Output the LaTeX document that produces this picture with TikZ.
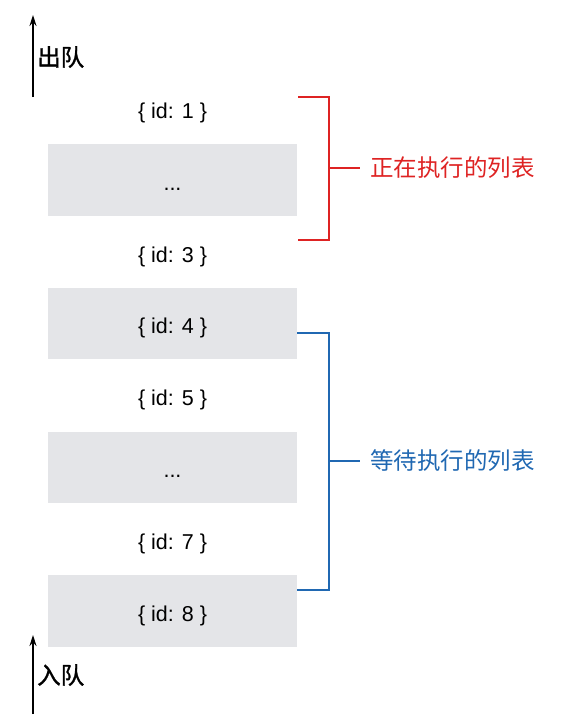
\documentclass[tikz,border=0pt]{standalone}
\usepackage{fontspec}
\setmainfont{Liberation Sans}
\newfontfamily\cjk{Noto Sans CJK SC}
\newfontfamily\cjkheavy[FakeBold=1.2]{Noto Sans CJK SC}
\usetikzlibrary{arrows.meta, positioning}
\definecolor{runred}{RGB}{222,35,35}
\definecolor{waitblue}{RGB}{32,104,178}
\definecolor{boxgray}{RGB}{228,229,232}

\begin{document}
\begin{tikzpicture}[
	x=1pt, y=-1pt,
	font=\fontsize{21.5}{24}\selectfont,
	item/.style={minimum width=249pt, minimum height=71.4pt, inner sep=0pt, text height=20.5pt, text depth=0pt, node distance=0pt},
	shaded/.style={item, fill=boxgray},
	listname/.style={font=\cjk\fontsize{23.5}{26}\selectfont, anchor=west, inner sep=0pt, inner xsep=10pt},
	queuename/.style={font=\cjkheavy\fontsize{23.5}{26}\selectfont, anchor=west, inner sep=0pt},
	queuearrow/.style={-{Stealth[length=11pt, width=7pt]}, line width=1.4pt},
	bracket/.style={line width=1.4pt}
]
\useasboundingbox (0,0) rectangle (567,725);

% queue rows
\node[item] (id1) at (172.5,108.3) {\{ id: 1 \}};
\node[shaded, below=of id1] (dots1) {...};
\node[item, below=of dots1] (id3) {\{ id: 3 \}};
\node[shaded, below=of id3] (id4) {\{ id: 4 \}};
\node[item, below=of id4] (id5) {\{ id: 5 \}};
\node[shaded, below=of id5] (dots2) {...};
\node[item, below=of dots2] (id7) {\{ id: 7 \}};
\node[shaded, below=of id7] (id8) {\{ id: 8 \}};

% out / in
\coordinate (outbase) at (33,97);
\coordinate (outtip) at (33,15);
\coordinate (inbase) at (33,714);
\coordinate (intip) at (33,635);
\draw[queuearrow] (outbase) -- (outtip);
\draw[queuearrow] (inbase) -- (intip);
\node[queuename] (dequeue) at (37,57) {出队};
\node[queuename] (enqueue) at (37,675) {入队};

% running list
\coordinate (runtop) at (298,97);
\coordinate (runbot) at (298,240);
\coordinate (runmid) at (329,168);
\node[listname, runred] (running) at (360,168) {正在执行的列表};
\draw[bracket, runred] (runtop) -- ++(31,0) |- (runbot);
\draw[bracket, runred] (runmid) -- (running.west);

% waiting list
\coordinate (waittop) at (297,333);
\coordinate (waitbot) at (297,590);
\coordinate (waitmid) at (329,461);
\node[listname, waitblue] (waiting) at (360,461) {等待执行的列表};
\draw[bracket, waitblue] (waittop) -- ++(32,0) |- (waitbot);
\draw[bracket, waitblue] (waitmid) -- (waiting.west);

\end{tikzpicture}
\end{document}
